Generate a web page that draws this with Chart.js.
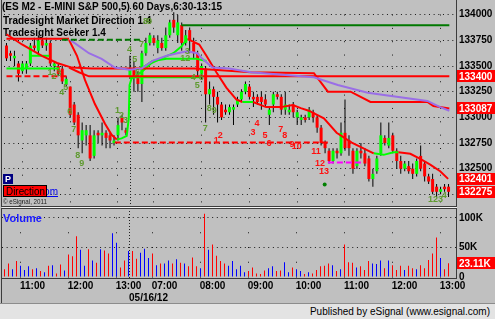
<!DOCTYPE html>
<html><head><meta charset="utf-8">
<script src="https://cdn.jsdelivr.net/npm/chart.js@4/dist/chart.umd.min.js"></script>
<style>
html,body{margin:0;padding:0;background:#c0c0c0;}
#wrap{position:relative;width:495px;height:319px;overflow:hidden;background:#c0c0c0;}
canvas{position:absolute;left:0;top:0;}
#foot{position:absolute;left:0;top:303px;width:495px;height:15px;background:#e3e3e3;border-top:1px solid #8c8c8c;font:10px "Liberation Sans",Arial,sans-serif;color:#000;}
#foot span{position:absolute;right:5px;top:2px;}
</style></head><body>
<div id="wrap">
<canvas id="pc" width="495" height="319"></canvas>
<canvas id="vc" width="495" height="319"></canvas>
<div id="foot"><span>Published by eSignal (www.esignal.com)</span></div>
</div>
<script>
// ---------- DATA ----------
const titleText = '(ES M2 - E-MINI S&P 500,5) 60 Days,6:30-13:15';
const study1 = 'Tradesight Market Direction 1.4';
const study2 = 'Tradesight Seeker 1.4';
const gridIdx = [4,16,28,37,49,61,73,85,97,109];
const hourLabels = ['11:00','12:00','13:00','07:00','08:00','09:00','10:00','11:00','12:00','13:00'];
const sessionStart = 31;
const dateLabel = '05/16/12';
const priceTicks = [134000,133750,133500,133250,133000,132750,132500,132250];
const volTicks = [100,50,0];
const volTickLabels = ['100K','50K','0'];

const opens = [133700,133625,133575,133525,133450,133475,133525,133700,133650,133750,
133700,133725,133500,133500,133475,133325,133300,133125,133025,132775,
132825,132825,132625,132850,132825,132850,132825,132750,132825,133000,
132875,133400,133475,133400,133325,133625,133725,133775,133675,133725,
133675,133800,133950,133800,133900,133725,133850,133725,133625,133425,
133475,133225,133275,133200,133125,133075,133050,133075,133125,133175,
133250,133300,133200,133200,133200,133175,133025,133125,133225,133200,
133075,133050,133125,133000,132975,133000,133000,133050,133000,132900,
132750,132675,132575,132675,132650,132850,132775,132675,132525,132675,
132650,132600,132400,132475,132650,132800,132725,132825,132675,132575,
132500,132525,132500,132450,132625,132550,132425,132400,132325,132275,
132325,132325];
const highs = [133725,133650,133650,133550,133550,133550,133725,133775,133800,133775,
133775,133750,133550,133525,133500,133400,133300,133150,133050,132950,
132925,132925,132875,132875,132950,132875,132850,132825,133000,133025,
132900,133600,133550,133450,133650,133775,133825,133800,133800,133775,
133875,133950,134025,134000,133925,133850,133875,133775,133650,133525,
133500,133350,133300,133250,133150,133125,133125,133125,133200,133275,
133350,133325,133250,133225,133250,133225,133100,133250,133250,133225,
133250,133125,133150,133075,133025,133025,133100,133075,133025,132925,
132775,132700,132700,132700,132950,133175,132825,132700,132700,132750,
132700,132625,132500,132625,132950,132825,132950,132850,132700,132625,
132575,132575,132550,132600,132725,132575,132450,132450,132350,132325,
132350,132350];
const lows = [133550,133550,133500,133350,133425,133425,133500,133650,133600,133675,
133650,133500,133450,133400,133325,133300,133000,132925,132700,132650,
132725,132575,132600,132750,132725,132700,132700,132725,132775,132875,
132825,133375,133250,133250,133150,133600,133700,133700,133625,133650,
133650,133775,133825,133725,133650,133700,133625,133575,133400,133375,
132950,133125,133025,132950,132975,133025,133025,132925,133100,133150,
133225,133175,133100,133125,133075,133100,132925,133050,133175,133025,
133025,133025,133000,132925,132925,132950,132975,132950,132850,132725,
132650,132550,132550,132600,132625,132675,132625,132450,132500,132600,
132525,132375,132325,132450,132625,132725,132700,132650,132500,132450,
132475,132450,132400,132425,132475,132375,132350,132250,132225,132250,
132275,132225];
const closes = [133575,133600,133600,133425,133525,133525,133700,133675,133750,133700,
133725,133525,133525,133425,133350,133375,133025,132950,132825,132875,
132875,132600,132825,132825,132850,132800,132775,132775,132925,132950,
132850,133475,133400,133325,133625,133725,133800,133725,133750,133675,
133800,133925,133875,133925,133725,133800,133750,133625,133450,133500,
133225,133275,133200,133125,133000,133050,133100,133100,133175,133250,
133325,133200,133175,133150,133150,133125,133075,133225,133200,133075,
133125,133075,133050,133050,133000,132975,133075,133000,132900,132750,
132700,132575,132675,132650,132850,132700,132700,132500,132675,132650,
132550,132400,132450,132600,132825,132750,132800,132675,132575,132500,
132550,132475,132450,132575,132500,132425,132375,132275,132275,132300,
132300,132275];
const volumesK = [13,23,13,27,19,12,18,13,15,10,
8,19,20,6,21,11,38,35,69,46,
19,47,28,24,47,45,40,74,58,16,
28,44,44,31,41,48,32,40,20,23,
23,28,23,30,24,23,18,33,18,15,
107,46,55,36,27,23,19,27,13,19,
8,10,16,6,5,11,15,18,10,11,
25,8,16,13,10,5,8,6,12,18,
19,23,20,10,13,55,25,24,16,18,
12,27,23,22,28,15,28,20,12,19,
12,19,15,13,20,15,29,40,67,32,
13,23.11];

// indicator lines: [bar index, price]
const purpleMA = [[16,133755],[20.7,133625],[23.9,133570],[27.2,133485],[30.9,133465],[33.9,133475],[36.7,133550],[40.2,133600],[42.9,133625],[45.4,133645],[47.9,133625],[49.2,133570],[51.7,133485],[55.9,133475],[61.4,133440],[77.2,133390],[83.2,133315],[90.7,133240],[105.7,133160],[108.9,133100],[111.2,133065]];
const redSlow = [[0,133810],[3.9,133710],[8.9,133600],[12.7,133530],[16.4,133485],[21.4,133475],[30.9,133475],[47.2,133475],[61.4,133440],[77.2,133430],[80.7,133250],[86.4,133250],[91.4,133150],[105.7,133150],[107.2,133110],[111.2,133087]];
const redLevelDashed = [[0,133400],[15.2,133400]];
const redLevel = [[15.7,133485],[18.2,133440],[20.7,133400],[111.2,133400]];
const redTop = [[0,133765],[15.7,133765]];
const redFastPrev = [[15.7,133755],[17.7,133600],[19.7,133365],[22.2,133130],[24.7,132940],[26.4,132830],[27.7,132785]];
const greenFlat = [[0,133475],[13.2,133475]];
const greenShort = [[5.9,133600],[10.7,133600]];
const greenSeeker = [[27.7,132785],[28.9,132795],[30.2,132820],[30.7,132990],[30.9,133315],[31.4,133380],[33.9,133440],[36.4,133530],[39.2,133580],[41.9,133625],[43.9,133690],[45.4,133765]];
const greenLevel = [[30.9,133390],[48.9,133390]];
const greenLow = [[34.2,133485],[36.7,133550],[40.2,133570],[47.7,133570],[50.2,133550]];
const redFastNew = [[45.4,133765],[48.4,133710],[50.2,133600],[52.7,133440],[55.2,133290],[57.7,133175],[59.2,133150]];
const greenMid = [[59.2,133150],[61.9,133150]];
const redFast2 = [[61.9,133150],[65.2,133100],[68.9,133100],[71.9,133120],[73.9,133090],[75.9,133065],[79.7,132990],[82.9,132850],[86.7,132755],[92.2,132650]];
const greenLate = [[92.2,132650],[94.7,132635],[97.2,132660],[98.4,132660]];
const redFast3 = [[98.4,132660],[101.4,132645],[103.9,132595],[106.4,132540],[108.9,132475],[110.9,132401]];
const darkGreenDashed = [[13.9,133755],[33.9,133755]];
const darkGreenLine = [[43.9,133897],[111.2,133897]];
const redDashed = [[27.2,132755],[81.4,132755]];
const magentaDashed = [[80.7,132560],[89.7,132560]];
const greenDot = [[79.9,132345]];

const tdGreen = [[10.9,133440,'1'],[11.9,133400,'2'],[13.2,133430,'3'],[13.9,133240,'4'],[14.9,133290,'5'],[15.9,133055,'6'],[16.9,132877,'7'],[17.9,132625,'8'],[18.9,132550,'9'],
[27.9,133065,'1'],[28.9,133015,'2'],[29.9,132970,'3'],
[30.9,133665,'4'],[32.2,133560,'5'],[32.9,133440,'6'],[33.9,133710,'7'],[34.9,133935,'8'],[35.9,133935,'9'],
[45.4,133645,'3'],[44.9,133570,'12'],[46.9,133390,'4'],[47.9,133315,'5'],[48.9,133390,'6'],[49.9,132895,'7'],[50.9,133085,'8'],[52.2,133065,'9'],
[107.7,132195,'123'],[109.9,132240,'4']];
const tdRed = [[52.7,132775,'1'],[53.7,132820,'2'],[61.9,132850,'3'],[62.9,132940,'4'],[64.9,132820,'5'],[65.9,132745,'6'],[68.9,132877,'7'],[69.9,132820,'8'],[71.7,132735,'9'],[72.9,132718,'10'],[77.7,132670,'11'],[78.7,132550,'12'],[79.7,132475,'13']];

const priceMarkers = [133400,133087,132401,132275];
const volMarker = 23.11;

// ---------- SETUP ----------
const FONT = '"Liberation Sans", Arial, sans-serif';
const X_MIN = -0.625, X_MAX = 113.125;
const P_MAX = 134065.5, P_MIN = 132136.7;
const V_MAX = 116.9, V_MIN = -3.39;
const idx = opens.map((_, i) => i);
const up = idx.map(i => closes[i] >= opens[i]);
const xy = a => a.map(p => ({x: p[0], y: p[1]}));
function lineDS(data, color, width, dash) {
  return {type:'line', data: xy(data), borderColor: color, borderWidth: width, borderDash: dash || [],
    pointRadius: 0, fill: false, tension: 0, order: 1};
}
const RED = '#ff0000', GRN = '#00ff00', PUR = '#9a6ee6', DKG = '#007800';

const priceDeco = {
  id: 'priceDeco',
  beforeDatasetsDraw(chart) {
    const c = chart.ctx, xs = chart.scales.x;
    c.save();
    c.fillStyle = '#000';
    c.font = 'bold 10px ' + FONT;
    c.textBaseline = 'alphabetic';
    c.fillText(titleText, 2, 10, 226);
    c.fillText(study1, 3, 24, 156);
    c.fillText(study2, 3, 36, 109);
    const sx = Math.round(xs.getPixelForValue(sessionStart)) + 0.5;
    c.strokeStyle = '#222'; c.lineWidth = 1; c.setLineDash([1, 2]);
    c.beginPath(); c.moveTo(sx, chart.chartArea.top); c.lineTo(sx, chart.chartArea.bottom); c.stroke();
    c.restore();
  },
  afterDatasetsDraw(chart) {
    const c = chart.ctx, xs = chart.scales.x, ys = chart.scales.y;
    c.save();
    c.font = 'bold 9px ' + FONT; c.textAlign = 'center'; c.textBaseline = 'middle';
    c.fillStyle = '#5f9a30';
    tdGreen.forEach(t => c.fillText(t[2], xs.getPixelForValue(t[0]), ys.getPixelForValue(t[1])));
    c.fillStyle = '#ff1010';
    tdRed.forEach(t => c.fillText(t[2], xs.getPixelForValue(t[0]), ys.getPixelForValue(t[1])));
    // link text behind Direction box
    c.textAlign = 'right'; c.textBaseline = 'alphabetic';
    c.font = '10px ' + FONT; c.fillStyle = '#0000ee';
    c.fillText('esight.com', 58, 195);
    c.fillRect(30, 196, 28, 1);
    // P box
    c.fillStyle = '#000080'; c.fillRect(3, 174, 10, 10);
    c.fillStyle = '#fff'; c.font = 'bold 9px ' + FONT; c.textAlign = 'center'; c.textBaseline = 'middle';
    c.fillText('P', 8, 179.5);
    // Direction box
    c.fillStyle = '#ff0000'; c.fillRect(3, 185, 44, 12);
    c.strokeStyle = '#000'; c.lineWidth = 1; c.strokeRect(3.5, 185.5, 43, 11);
    c.fillStyle = '#000'; c.font = '11px ' + FONT; c.textAlign = 'left'; c.textBaseline = 'alphabetic';
    c.fillText('Direction', 6, 195, 39);
    c.font = '7px ' + FONT; c.fillStyle = '#222';
    c.fillText('\u00a9 eSignal, 2011', 3, 204, 44);
    c.restore();
  },
  afterDraw(chart) {
    const c = chart.ctx, ys = chart.scales.y;
    c.save();
    c.font = 'bold 10px ' + FONT; c.textBaseline = 'middle'; c.textAlign = 'left';
    priceMarkers.forEach(v => {
      const y = ys.getPixelForValue(v);
      c.fillStyle = '#ff0000'; c.fillRect(457, Math.round(y - 6), 38, 12);
      c.fillStyle = '#fff'; c.fillText(String(v), 459, y + 0.5);
    });
    c.restore();
  }
};

const bodyDS = {
  type: 'bar', data: idx.map(i => ({x: i, y: [opens[i], closes[i]]})),
  backgroundColor: idx.map(i => up[i] ? GRN : RED), borderWidth: 0,
  barThickness: 3, grouped: false, inflateAmount: 0, order: 5
};
const wickDS = {
  type: 'bar', data: idx.map(i => ({x: i, y: [lows[i], highs[i]]})),
  backgroundColor: '#000', borderWidth: 0, barThickness: 1, grouped: false, inflateAmount: 0, order: 6
};
const dotDS = {type:'line', data: xy(greenDot), showLine:false, pointRadius:2, pointBackgroundColor:'#008000', pointBorderWidth:0, order:0};

new Chart(document.getElementById('pc'), {
  type: 'bar',
  data: { datasets: [
    lineDS(darkGreenDashed, DKG, 2, [6,3]),
    lineDS(darkGreenLine, DKG, 2),
    lineDS(purpleMA, PUR, 2),
    lineDS(redSlow, RED, 2),
    lineDS(redLevelDashed, RED, 2, [6,3]),
    lineDS(redLevel, RED, 2),
    lineDS(redTop, RED, 2),
    lineDS(redFastPrev, RED, 2),
    lineDS(greenFlat, GRN, 2),
    lineDS(greenShort, GRN, 2),
    lineDS(greenSeeker, GRN, 2),
    lineDS(greenLevel, GRN, 2),
    lineDS(greenLow, GRN, 2),
    lineDS(redFastNew, RED, 2),
    lineDS(greenMid, GRN, 2),
    lineDS(redFast2, RED, 2),
    lineDS(greenLate, GRN, 2),
    lineDS(redFast3, RED, 2),
    lineDS(redDashed, RED, 2, [6,3]),
    lineDS(magentaDashed, '#ff00ff', 2, [6,3]),
    dotDS, bodyDS, wickDS
  ]},
  options: {
    responsive: false, animation: false, events: [],
    layout: {padding: {left: 2, right: 0, top: 0, bottom: 113}},
    plugins: {legend: {display: false}, tooltip: {enabled: false}},
    scales: {
      x: {type: 'linear', min: X_MIN, max: X_MAX, offset: false,
        grid: {offset: false, color: '#1a1a1a', lineWidth: 1, drawTicks: false},
        border: {display: false, dash: [1, 12.35], dashOffset: 6.85},
        ticks: {display: false},
        afterBuildTicks: s => { s.ticks = gridIdx.map(v => ({value: v})); },
        afterFit: s => { s.height = 0; }},
      y: {type: 'linear', position: 'right', min: P_MIN, max: P_MAX,
        grid: {color: '#1a1a1a', lineWidth: 1, drawTicks: false},
        border: {display: false, dash: [1, 3.67]},
        ticks: {padding: 2, color: '#000', font: {family: FONT, size: 10, weight: 'bold'}, callback: v => String(v)},
        afterBuildTicks: s => { s.ticks = priceTicks.map(v => ({value: v})); },
        afterFit: s => { s.width = 38; }}
    }
  },
  plugins: [priceDeco]
});

const volDeco = {
  id: 'volDeco',
  beforeDatasetsDraw(chart) {
    const c = chart.ctx, xs = chart.scales.x;
    c.save();
    const sx = Math.round(xs.getPixelForValue(sessionStart)) + 0.5;
    c.strokeStyle = '#222'; c.lineWidth = 1; c.setLineDash([1, 2]);
    c.beginPath(); c.moveTo(sx, chart.chartArea.top); c.lineTo(sx, chart.chartArea.bottom); c.stroke();
    c.restore();
  },
  afterDraw(chart) {
    const c = chart.ctx, xs = chart.scales.x, ys = chart.scales.y;
    c.save();
    c.font = 'bold 11px ' + FONT; c.fillStyle = '#1a1aff'; c.textBaseline = 'alphabetic';
    c.fillText('Volume', 3, 222);
    const y = ys.getPixelForValue(volMarker);
    c.fillStyle = '#ff0000'; c.fillRect(457, Math.round(y - 6), 38, 12);
    c.fillStyle = '#fff'; c.font = 'bold 10px ' + FONT; c.textBaseline = 'middle';
    c.fillText(volMarker.toFixed(2) + 'K', 459, y + 0.5);
    c.fillStyle = '#000'; c.textAlign = 'center';
    c.fillText(dateLabel, xs.getPixelForValue(sessionStart + 5), 298);
    // frames
    c.strokeStyle = '#3c3c3c'; c.lineWidth = 1;
    c.strokeRect(1.5, -0.5, 455, 207);
    c.strokeRect(1.5, 208.5, 455, 70);
    c.beginPath(); c.moveTo(1.5, 279); c.lineTo(1.5, 303); c.stroke();
    c.strokeStyle = '#f2f2f2';
    c.beginPath(); c.moveTo(2, 207.5); c.lineTo(457, 207.5); c.stroke();
    c.restore();
  }
};

new Chart(document.getElementById('vc'), {
  type: 'bar',
  data: { datasets: [{
    data: idx.map(i => ({x: i, y: volumesK[i]})),
    backgroundColor: idx.map(i => up[i] ? '#0000ff' : '#ff0000'),
    borderWidth: 0, barThickness: 1, inflateAmount: 0, grouped: false
  }]},
  options: {
    responsive: false, animation: false, events: [],
    layout: {padding: {left: 2, right: 0, top: 208, bottom: 16}},
    plugins: {legend: {display: false}, tooltip: {enabled: false}},
    scales: {
      x: {type: 'linear', min: X_MIN, max: X_MAX, offset: false,
        grid: {offset: false, color: '#1a1a1a', lineWidth: 1, drawTicks: false},
        border: {display: false, dash: [1, 13.75], dashOffset: 5.25},
        ticks: {autoSkip: false, maxRotation: 0, padding: 1, labelOffset: 12, color: '#000',
          font: {family: FONT, size: 10, weight: 'bold'}, callback: v => hourLabels[gridIdx.indexOf(v)]},
        afterBuildTicks: s => { s.ticks = gridIdx.map(v => ({value: v})); },
        afterFit: s => { s.height = 24; }},
      y: {type: 'linear', position: 'right', min: V_MIN, max: V_MAX,
        grid: {color: c => (c.tick && c.tick.value === 0) ? 'rgba(0,0,0,0)' : '#1a1a1a', lineWidth: 1, drawTicks: false},
        border: {display: false, dash: [1, 3.67]},
        ticks: {padding: 2, color: '#000', font: {family: FONT, size: 10, weight: 'bold'}, callback: v => volTickLabels[volTicks.indexOf(v)]},
        afterBuildTicks: s => { s.ticks = volTicks.map(v => ({value: v})); },
        afterFit: s => { s.width = 38; }}
    }
  },
  plugins: [volDeco]
});
</script>
</body></html>
